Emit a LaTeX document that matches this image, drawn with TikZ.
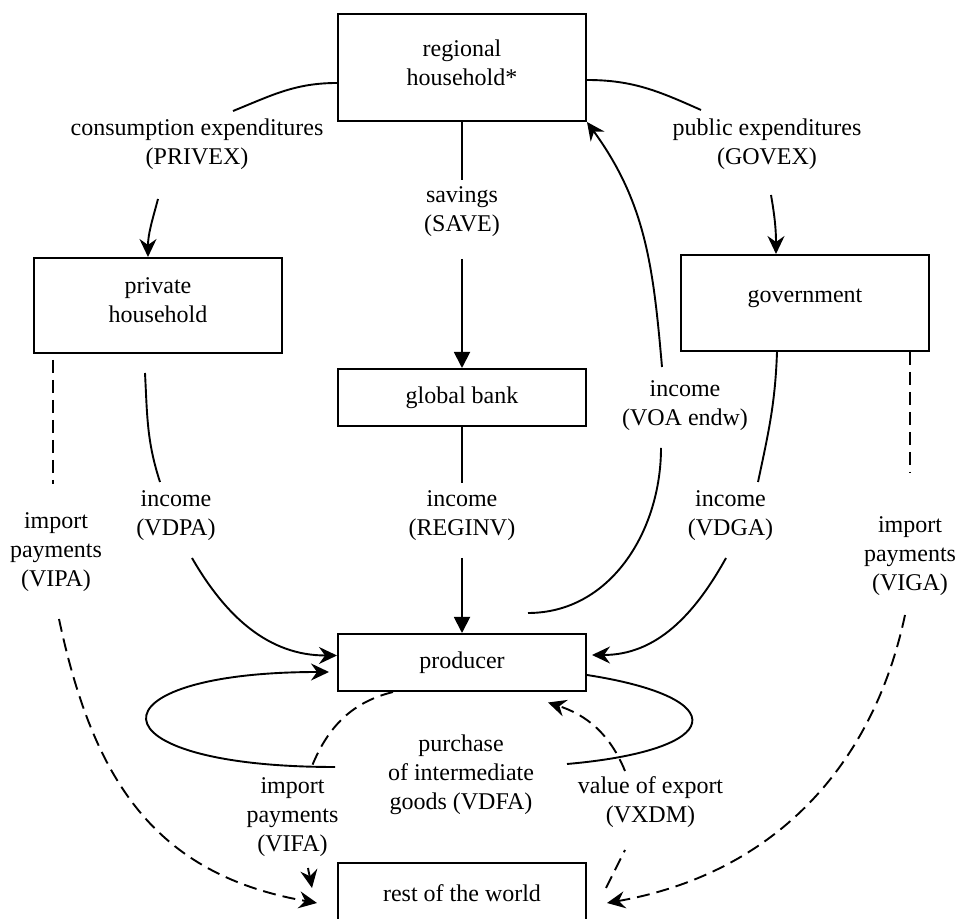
\documentclass[tikz,border=0pt]{standalone}
\usepackage{fontspec}
\setmainfont{Liberation Serif}
\usetikzlibrary{arrows.meta}
\begin{document}
\begin{tikzpicture}[x=1pt,y=1pt,
  box/.style={draw,line width=2pt,minimum width=248pt,inner sep=0pt,align=center,font=\fontsize{24}{29}\selectfont},
  lab/.style={align=center,inner sep=0pt,font=\fontsize{24}{29}\selectfont},
  flow/.style={line width=1.9pt},
  dflow/.style={line width=1.9pt,dash pattern=on 13pt off 7pt},
  sarr/.style={-{Stealth[length=18pt,width=17pt,inset=6pt]}},
  tarr/.style={-{Triangle[length=16pt,width=16pt]}},
]
\useasboundingbox (0,0) rectangle (958,918);
% boxes
\node[box,minimum height=107pt] (rh) at (462,850.5) {};
\node[lab] (rhtext) at (462,855) {regional\\household*};
\node[box,minimum height=95pt] (ph) at (158,612.5) {};
\node[lab] (phtext) at (158,618) {private\\household};
\node[box,minimum height=96pt] (gov) at (805,615) {};
\node[lab] (govtext) at (805,620) {government};
\node[box,minimum height=57pt] (gb) at (462,520.5) {global bank};
\node[box,minimum height=57pt] (prod) at (462,255.5) {producer};
\node[box,minimum height=60pt] (row) at (462,25) {rest of the world};
% labels
\node[lab] (lprivex) at (197,774) {consumption expenditures\\(PRIVEX)};
\node[lab] (lgovex) at (767,774) {public expenditures\\(GOVEX)};
\node[lab] (lsave) at (462,706) {savings\\(SAVE)};
\node[lab] (lvoa) at (685,512) {income\\(VOA endw)};
\node[lab] (lreginv) at (462,402.5) {income\\(REGINV)};
\node[lab] (lvdpa) at (176,402.5) {income\\(VDPA)};
\node[lab] (lvdga) at (730.5,402.5) {income\\(VDGA)};
\node[lab] (lvipa) at (56,365.5) {import\\payments\\(VIPA)};
\node[lab] (lviga) at (910,362) {import\\payments\\(VIGA)};
\node[lab] (lvdfa) at (461,143) {purchase\\of intermediate\\goods (VDFA)};
\node[lab] (lvifa) at (292.5,101) {import\\payments\\(VIFA)};
\node[lab] (lvxdm) at (650.5,116) {value of export\\(VXDM)};
% free ends
\coordinate (privA) at (233,807);
\coordinate (privB) at (158,719);
\coordinate (govA) at (701,808);
\coordinate (govB) at (771,723);
\coordinate (saveA) at (462,738);
\coordinate (saveB) at (462,659);
\coordinate (regA) at (462,435);
\coordinate (regB) at (462,360);
\coordinate (voaA) at (661,470);
\coordinate (voaB) at (662,551);
\coordinate (vdpaA) at (160,436);
\coordinate (vdpaB) at (192,360);
\coordinate (vdgaA) at (758,436);
\coordinate (vdgaB) at (726,360);
\coordinate (vipaA) at (53,434);
\coordinate (vipaB) at (59,299);
\coordinate (vigaA) at (910,445);
\coordinate (vigaB) at (905,303);
\coordinate (loopR) at (567,154);
\coordinate (loopL) at (335,151);
\coordinate (vifaA) at (310,147);
\coordinate (vifaB) at (308,50);
\coordinate (vxdmA) at (625,68);
\coordinate (vxdmB) at (625,147);
% PRIVEX
\draw[flow] ([yshift=-15.5pt]rh.west) to[out=180,in=22] (privA);
\draw[flow,sarr] (privB) to[out=-105,in=90] ([xshift=-10pt]ph.north);
% GOVEX
\draw[flow] ([yshift=-12.5pt]rh.east) to[out=0,in=156] (govA);
\draw[flow,sarr] (govB) to[out=-80,in=90] ([xshift=-29pt]gov.north);
% SAVE
\draw[flow] (rh.south) -- (saveA);
\draw[flow,tarr] (saveB) -- (gb.north);
% REGINV
\draw[flow] (gb.south) -- (regA);
\draw[flow,tarr] (regB) -- (prod.north);
% VOA endw
\draw[flow] ([xshift=66pt,yshift=20pt]prod.north) to[out=0,in=-90] (voaA);
\draw[flow,sarr] (voaB) to[out=95,in=-54] (rh.south east);
% VDPA
\draw[flow] ([xshift=-13pt,yshift=-19pt]ph.south) to[out=-87,in=108] (vdpaA);
\draw[flow,sarr] (vdpaB) to[out=-60,in=180] ([yshift=7pt]prod.west);
% VDGA
\draw[flow] ([xshift=-28pt]gov.south) to[out=-92,in=78] (vdgaA);
\draw[flow,sarr] (vdgaB) to[out=-119,in=0] ([xshift=5pt,yshift=7.5pt]prod.east);
% VIPA
\draw[dflow] ([xshift=-105pt,yshift=-6pt]ph.south) -- (vipaA);
\draw[dflow,sarr] (vipaB) to[out=-78,in=170,looseness=1.1] ([xshift=-20pt,yshift=-10pt]row.west);
% VIGA
\draw[dflow] ([xshift=105pt]gov.south) -- (vigaA);
\draw[dflow,sarr] (vigaB) to[out=-102,in=10] ([xshift=20pt,yshift=-10pt]row.east);
% VDFA loop
\draw[flow] ([yshift=-12.5pt]prod.east) .. controls (735,220) and (726,168) .. (loopR);
\draw[flow,sarr] (loopL) .. controls (86,151) and (86,246) .. ([xshift=-8pt,yshift=-9.5pt]prod.west);
% VIFA
\draw[dflow] ([xshift=-69pt]prod.south) to[out=-166,in=69] (vifaA);
\draw[dflow,sarr] (vifaB) to[out=-80,in=100] ([xshift=-25pt,yshift=5pt]row.west);
% VXDM
\draw[dflow] ([xshift=19pt,yshift=5pt]row.east) -- (vxdmA);
\draw[dflow,sarr] (vxdmB) to[out=112,in=-18] ([xshift=86pt,yshift=-10.5pt]prod.south);
\end{tikzpicture}
\end{document}
